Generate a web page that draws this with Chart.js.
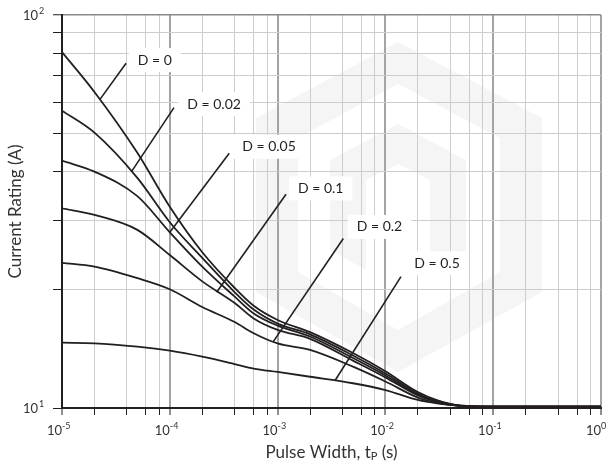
<!DOCTYPE html>
<html lang="en">
<head>
  <meta charset="UTF-8" />
  <title>Current Rating vs Pulse Width</title>
  <script src="https://cdn.jsdelivr.net/npm/chart.js"></script>
  <style>
    body { margin: 0; background: #fff; }
    #wrap { width: 611px; height: 467px; position: relative; }
  </style>
</head>
<body>
  <div id="wrap"><canvas id="ratingChart"></canvas></div>

  <script>
    // pulse width (s) and current rating (A) per duty cycle
    const pulseWidth = [1e-5, 2e-5, 5e-5, 1e-4, 2e-4, 4e-4, 6e-4, 1e-3, 2e-3, 5e-3, 1e-2, 2e-2, 3e-2, 5e-2, 1e-1, 1];
    const dutyLabels = ["D = 0", "D = 0.02", "D = 0.05", "D = 0.1", "D = 0.2", "D = 0.5"];
    const ratingD0   = [80.5, 63.7, 44.6, 32.5, 24.9, 20.2, 18.2, 16.75, 15.6, 13.8, 12.4, 10.98, 10.48, 10.15, 10.08, 10.08];
    const ratingD002 = [57.1, 50.2, 38.5, 29.7, 24.1, 19.7, 17.8, 16.4, 15.4, 13.6, 12.24, 10.89, 10.42, 10.13, 10.08, 10.08];
    const ratingD005 = [42.6, 39.95, 34.6, 28.0, 22.9, 19.2, 17.4, 16.2, 15.2, 13.4, 12.1, 10.82, 10.39, 10.13, 10.08, 10.08];
    const ratingD01  = [32.2, 31.0, 28.4, 24.5, 21.0, 18.5, 16.9, 15.8, 15.0, 13.2, 11.96, 10.76, 10.36, 10.12, 10.08, 10.08];
    const ratingD02  = [23.4, 22.9, 21.4, 20.05, 18.07, 16.55, 15.5, 14.6, 14.05, 12.74, 11.68, 10.63, 10.3, 10.12, 10.08, 10.08];
    const ratingD05  = [14.66, 14.61, 14.32, 13.99, 13.51, 12.94, 12.6, 12.35, 12.01, 11.56, 11.11, 10.48, 10.27, 10.12, 10.08, 10.08];
    const ratings = [ratingD0, ratingD002, ratingD005, ratingD01, ratingD02, ratingD05];

    // callout leaders (data coords): point on curve -> end near label
    const leaderFromX = [2.25e-5, 4.43e-5, 1.0e-4, 2.72e-4, 9.12e-4, 3.41e-3];
    const leaderFromY = [61.0, 40.0, 28.0, 19.7, 14.75, 11.75];
    const leaderToX   = [3.93e-5, 1.094e-4, 3.56e-4, 1.197e-3, 4.07e-3, 1.395e-2];
    const leaderToY   = [75.4, 58.1, 44.5, 35.0, 27.0, 21.6];
    const labelX      = [5.04e-5, 1.453e-4, 4.70e-4, 1.545e-3, 5.42e-3, 1.854e-2];
    const labelY      = [76.8, 59.3, 46.2, 36.2, 28.9, 23.35];

    const xTickValues = [];
    for (let e = -5; e < 0; e++) [1, 2, 4, 6, 8].forEach(m => xTickValues.push(m * Math.pow(10, e)));
    xTickValues.push(1);
    const yTickValues = [10, 20, 30, 40, 50, 60, 70, 80, 90, 100];
    const xDecades = [-5, -4, -3, -2, -1, 0];
    const yDecades = [1, 2];

    const FONT = "Lato, 'Open Sans', sans-serif";
    const INK = "#231f20";

    function isDecade(v) {
      const l = Math.log10(v);
      return Math.abs(l - Math.round(l)) < 1e-9;
    }

    const datasets = ratings.map(r => ({
      data: pulseWidth.map((x, i) => ({ x, y: r[i] })),
      borderColor: INK,
      borderWidth: 1.8,
      pointRadius: 0,
      cubicInterpolationMode: "monotone",
      fill: false
    }));
    leaderFromX.forEach((x, i) => {
      datasets.push({
        data: [{ x, y: leaderFromY[i] }, { x: leaderToX[i], y: leaderToY[i] }],
        borderColor: INK,
        borderWidth: 1.6,
        pointRadius: 0,
        tension: 0
      });
    });

    // faint logo behind the grid
    const watermark = {
      id: "watermark",
      beforeDraw(chart) {
        const c = chart.ctx;
        c.save();
        c.fillStyle = "#f5f5f5";
        c.beginPath();
        c.moveTo(398, 42); c.lineTo(542, 118); c.lineTo(542, 292); c.lineTo(398, 372);
        c.lineTo(256, 292); c.lineTo(256, 118); c.closePath();
        c.moveTo(398, 84); c.lineTo(298, 138); c.lineTo(298, 272); c.lineTo(398, 330);
        c.lineTo(500, 272); c.lineTo(500, 138); c.closePath();
        c.fill("evenodd");
        c.beginPath();
        c.moveTo(330, 160); c.lineTo(398, 124); c.lineTo(466, 160); c.lineTo(466, 250);
        c.lineTo(430, 270); c.lineTo(430, 180); c.lineTo(398, 164); c.lineTo(366, 180);
        c.lineTo(366, 270); c.lineTo(330, 250); c.closePath();
        c.fill();
        c.restore();
      }
    };

    // D = ... callout boxes
    const callouts = {
      id: "callouts",
      beforeDatasetsDraw(chart) {
        const c = chart.ctx, xs = chart.scales.x, ys = chart.scales.y;
        c.save();
        c.font = "14px " + FONT;
        c.textBaseline = "middle";
        dutyLabels.forEach((t, i) => {
          const px = xs.getPixelForValue(labelX[i]);
          const py = ys.getPixelForValue(labelY[i]);
          const w = c.measureText(t).width;
          c.fillStyle = "#fff";
          c.fillRect(px - 9, py - 12, w + 18, 24);
          c.fillStyle = INK;
          c.fillText(t, px, py);
        });
        c.restore();
      }
    };

    // tick labels with exponents and axis titles
    const axisText = {
      id: "axisText",
      afterDraw(chart) {
        const c = chart.ctx, xs = chart.scales.x, ys = chart.scales.y, a = chart.chartArea;
        c.save();
        c.fillStyle = "#333";
        c.textBaseline = "middle";
        xDecades.forEach(e => {
          const px = xs.getPixelForValue(Math.pow(10, e));
          c.font = "13px " + FONT;
          c.textAlign = "right";
          c.fillText("10", px, a.bottom + 23);
          c.font = "9px " + FONT;
          c.textAlign = "left";
          c.fillText(e === 0 ? "0" : "-" + (-e), px, a.bottom + 18);
        });
        yDecades.forEach(e => {
          const py = ys.getPixelForValue(Math.pow(10, e));
          c.font = "13px " + FONT;
          c.textAlign = "right";
          c.fillText("10", a.left - 24, py + 1);
          c.font = "9px " + FONT;
          c.textAlign = "left";
          c.fillText(String(e), a.left - 23, py - 4);
        });
        // x title with subscript P
        const big = "17px " + FONT, small = "11px " + FONT;
        const p1 = "Pulse Width, t", p3 = " (s)";
        c.font = big; const w1 = c.measureText(p1).width, w3 = c.measureText(p3).width;
        c.font = small; const w2 = c.measureText("P").width;
        let x0 = (a.left + a.right) / 2 - (w1 + w2 + w3) / 2;
        const ty = a.bottom + 45;
        c.textAlign = "left";
        c.font = big; c.fillText(p1, x0, ty); x0 += w1;
        c.font = small; c.fillText("P", x0, ty + 3); x0 += w2;
        c.font = big; c.fillText(p3, x0, ty);
        // y title
        c.translate(16, (a.top + a.bottom) / 2);
        c.rotate(-Math.PI / 2);
        c.textAlign = "center";
        c.font = big;
        c.fillText("Current Rating (A)", 0, 0);
        c.restore();
      }
    };

    new Chart(document.getElementById("ratingChart").getContext("2d"), {
      type: "line",
      data: { datasets },
      options: {
        responsive: true,
        maintainAspectRatio: false,
        animation: false,
        events: [],
        layout: { padding: { top: 15, right: 10, left: 0, bottom: 0 } },
        plugins: { legend: { display: false }, tooltip: { enabled: false } },
        scales: {
          x: {
            type: "logarithmic",
            min: 1e-5,
            max: 1,
            afterBuildTicks: s => { s.ticks = xTickValues.map(v => ({ value: v })); },
            afterFit: s => { s.height = 59; },
            ticks: { callback: () => "", autoSkip: false, maxRotation: 0 },
            grid: {
              color: ctx => isDecade(ctx.tick.value) ? "#a4a4a4" : "#cdcdcd",
              lineWidth: ctx => isDecade(ctx.tick.value) ? 2 : 1,
              tickColor: INK,
              tickWidth: 1,
              tickLength: 7
            },
            border: { color: INK, width: 2 }
          },
          y: {
            type: "logarithmic",
            min: 10,
            max: 100,
            afterBuildTicks: s => { s.ticks = yTickValues.map(v => ({ value: v })); },
            afterFit: s => { s.width = 62; },
            ticks: { callback: () => "", autoSkip: false },
            grid: {
              color: ctx => ctx.tick.value === 100 ? "#8a8a8a" : "#cdcdcd",
              lineWidth: ctx => ctx.tick.value === 100 ? 1.5 : 1,
              tickColor: INK,
              tickWidth: 1,
              tickLength: 9
            },
            border: { color: INK, width: 2 }
          }
        }
      },
      plugins: [watermark, callouts, axisText]
    });
  </script>
</body>
</html>
